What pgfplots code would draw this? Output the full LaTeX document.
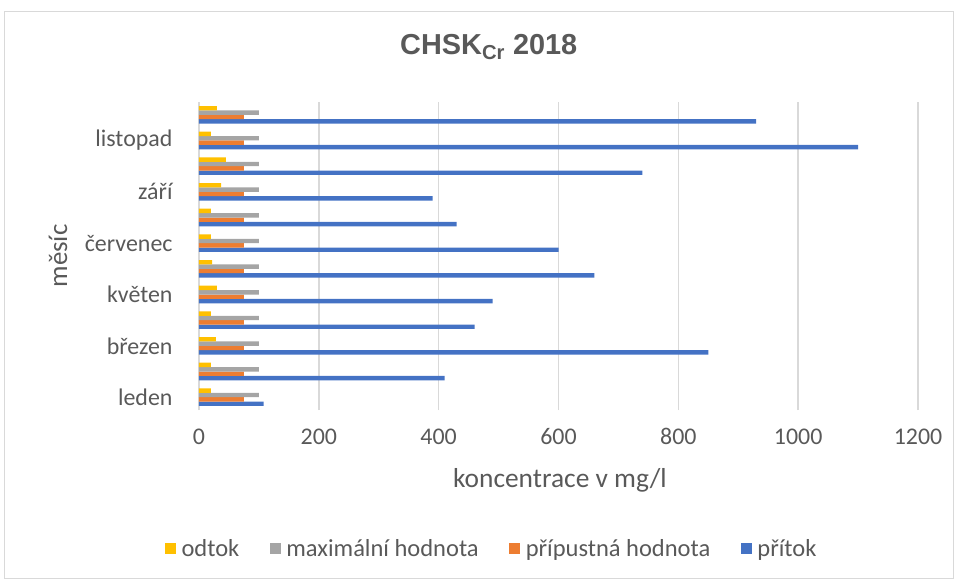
\documentclass[border=0pt]{standalone}
\usepackage{pgfplots}
\pgfplotsset{compat=1.18}
\usepackage{fontspec}
\setmainfont{Carlito}
\newfontfamily\titlefont{Liberation Sans}
\definecolor{txt}{HTML}{595959}
\definecolor{gridc}{HTML}{D9D9D9}
\definecolor{yc}{HTML}{FFC000}
\definecolor{gc}{HTML}{A5A5A5}
\definecolor{oc}{HTML}{ED7D31}
\definecolor{bc}{HTML}{4472C4}
\begin{document}
\begin{tikzpicture}
\useasboundingbox (-199bp,-171bp) rectangle (759bp,410bp);
\draw[gridc, line width=1bp] (-194bp,-168bp) rectangle (754bp,398bp);
\begin{axis}[
  at={(0,0)}, anchor=south west,
  scale only axis, width=719bp, height=308bp,
  xbar=0pt, bar width=4.4bp,
  xmin=0, xmax=1200, ymin=-0.5, ymax=11.5,
  xtick={0,200,...,1200},
  ytick={0,2,4,6,8,10},
  yticklabels={leden,březen,květen,červenec,září,listopad},
  xmajorgrids, grid style={draw=gridc, line width=1.6bp},
  axis line style={draw=none},
  major tick length=0pt,
  tick label style={font=\fontsize{24}{28}\selectfont, text=txt},
  xticklabel style={/pgf/number format/assume math mode=true, /pgf/number format/1000 sep={}, yshift=-15bp},
  yticklabel style={xshift=-23bp},
  scaled x ticks=false,
  title={\titlefont\bfseries CHSK\textsubscript{Cr} 2018},
  title style={at={(0.403,1.159)}, anchor=center, font=\fontsize{29}{34}\selectfont, text=txt},
  xlabel={koncentrace v mg/l},
  xlabel style={at={(0.502,-0.23)}, anchor=center, font=\fontsize{27.5}{32}\selectfont, text=txt},
  ylabel={měsíc},
  ylabel style={at={(-0.196,0.5)}, anchor=center, font=\fontsize{27}{32}\selectfont, text=txt},
  legend columns=4,
  reverse legend,
  legend image code/.code={\fill[#1] (0bp,-5.5bp) rectangle (11bp,5.5bp);},
  legend style={at={(0.4075,-0.451)}, anchor=center, draw=none, fill=none,
    font=\fontsize{24.6}{29}\selectfont, text=txt,
    nodes={inner sep=2.5bp},
    /tikz/every odd column/.append style={column sep=3bp},
    /tikz/every even column/.append style={column sep=28bp}},
]
\addplot[fill=bc, draw=none] coordinates {(108,0) (410,1) (850,2) (460,3) (490,4) (660,5) (600,6) (430,7) (390,8) (740,9) (1100,10) (930,11)};
\addlegendentry{přítok}
\addplot[fill=oc, draw=none] coordinates {(75,0) (75,1) (75,2) (75,3) (75,4) (75,5) (75,6) (75,7) (75,8) (75,9) (75,10) (75,11)};
\addlegendentry{přípustná hodnota}
\addplot[fill=gc, draw=none] coordinates {(100,0) (100,1) (100,2) (100,3) (100,4) (100,5) (100,6) (100,7) (100,8) (100,9) (100,10) (100,11)};
\addlegendentry{maximální hodnota}
\addplot[fill=yc, draw=none] coordinates {(20,0) (20,1) (28,2) (20,3) (30,4) (22,5) (20,6) (20,7) (37,8) (45,9) (20,10) (30,11)};
\addlegendentry{odtok}
\end{axis}
\end{tikzpicture}
\end{document}
